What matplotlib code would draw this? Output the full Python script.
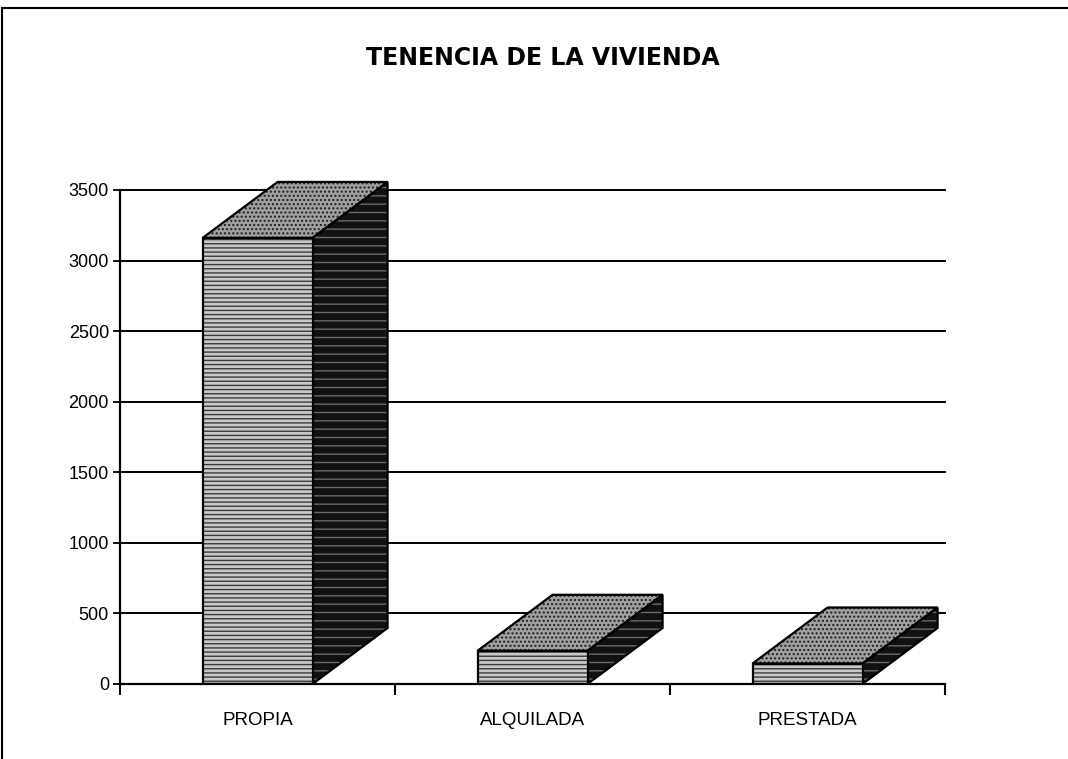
import numpy as np
import matplotlib
matplotlib.use("Agg")
import matplotlib.pyplot as plt
from matplotlib.patches import Polygon
from matplotlib.lines import Line2D

# Data
categories = ["PROPIA", "ALQUILADA", "PRESTADA"]
values = [3160, 235, 145]
y_ticks = [0, 500, 1000, 1500, 2000, 2500, 3000, 3500]

plt.rcParams["font.family"] = ["Liberation Sans", "DejaVu Sans"]

fig = plt.figure(figsize=(10.68, 7.59), dpi=100)
ax = fig.add_axes([120 / 1068, 75 / 759, 825 / 1068, 494 / 759])

n = len(categories)
xc = np.arange(n) + 0.5
bar_w = 0.4
# depth of the pseudo 3D boxes (data units)
dx = 0.273
dy = 397

ax.set_xlim(0, n)
ax.set_ylim(0, 3500)

# gridlines behind bars
ax.set_axisbelow(True)
ax.yaxis.grid(True, color="black", linewidth=1.4)
for gl in ax.get_ygridlines():
    gl.set_clip_on(False)

for x, v in zip(xc, values):
    x0 = x - bar_w / 2
    x1 = x + bar_w / 2
    side = [(x1, 0), (x1 + dx, dy), (x1 + dx, v + dy), (x1, v)]
    top = [(x0, v), (x0 + dx, v + dy), (x1 + dx, v + dy), (x1, v)]
    # side face (dark)
    ax.add_patch(Polygon(side, closed=True, facecolor="#111111", edgecolor="#6a6a6a",
                         hatch="--", linewidth=0, zorder=3, clip_on=False))
    ax.add_patch(Polygon(side, closed=True, fill=False, edgecolor="black",
                         linewidth=1.6, zorder=3.1, clip_on=False))
    # top face
    ax.add_patch(Polygon(top, closed=True, facecolor="#a0a0a0", edgecolor="#1e1e1e",
                         hatch="....", linewidth=0, zorder=3, clip_on=False))
    ax.add_patch(Polygon(top, closed=True, fill=False, edgecolor="black",
                         linewidth=1.6, zorder=3.1, clip_on=False))

# front faces
ax.bar(xc, values, width=bar_w, color="#c8c8c8", edgecolor="#3a3a3a",
       hatch="----", linewidth=0, zorder=4)
ax.bar(xc, values, width=bar_w, fill=False, edgecolor="black",
       linewidth=1.6, zorder=4.1)

# axes styling
for s in ["top", "right"]:
    ax.spines[s].set_visible(False)
ax.spines["left"].set_linewidth(1.6)
ax.spines["bottom"].set_linewidth(1.6)
ax.spines["left"].set_zorder(5)
ax.spines["bottom"].set_zorder(5)

ax.set_yticks(y_ticks)
ax.set_yticklabels([str(t) for t in y_ticks], fontsize=13)
ax.tick_params(axis="y", length=5, width=1.3, pad=3)

ax.set_xticks(np.arange(n + 1))
ax.set_xticklabels([])
ax.tick_params(axis="x", which="major", length=8, width=1.5)
ax.set_xticks(xc, minor=True)
ax.set_xticklabels(categories, minor=True, fontsize=13.5)
ax.tick_params(axis="x", which="minor", length=0, pad=20)

fig.text(0.508, 0.924, "TENENCIA DE LA VIVIENDA", ha="center", va="center",
         fontsize=17, fontweight="heavy", family=["DejaVu Sans"])

# chart area border (top and left edges)
fig.add_artist(Line2D([2 / 1068, 1], [1 - 8 / 759, 1 - 8 / 759],
                      transform=fig.transFigure, color="black", linewidth=1.5))
fig.add_artist(Line2D([2 / 1068, 2 / 1068], [0, 1 - 8 / 759],
                      transform=fig.transFigure, color="black", linewidth=1.5))

fig.savefig("out.png", dpi=100)
